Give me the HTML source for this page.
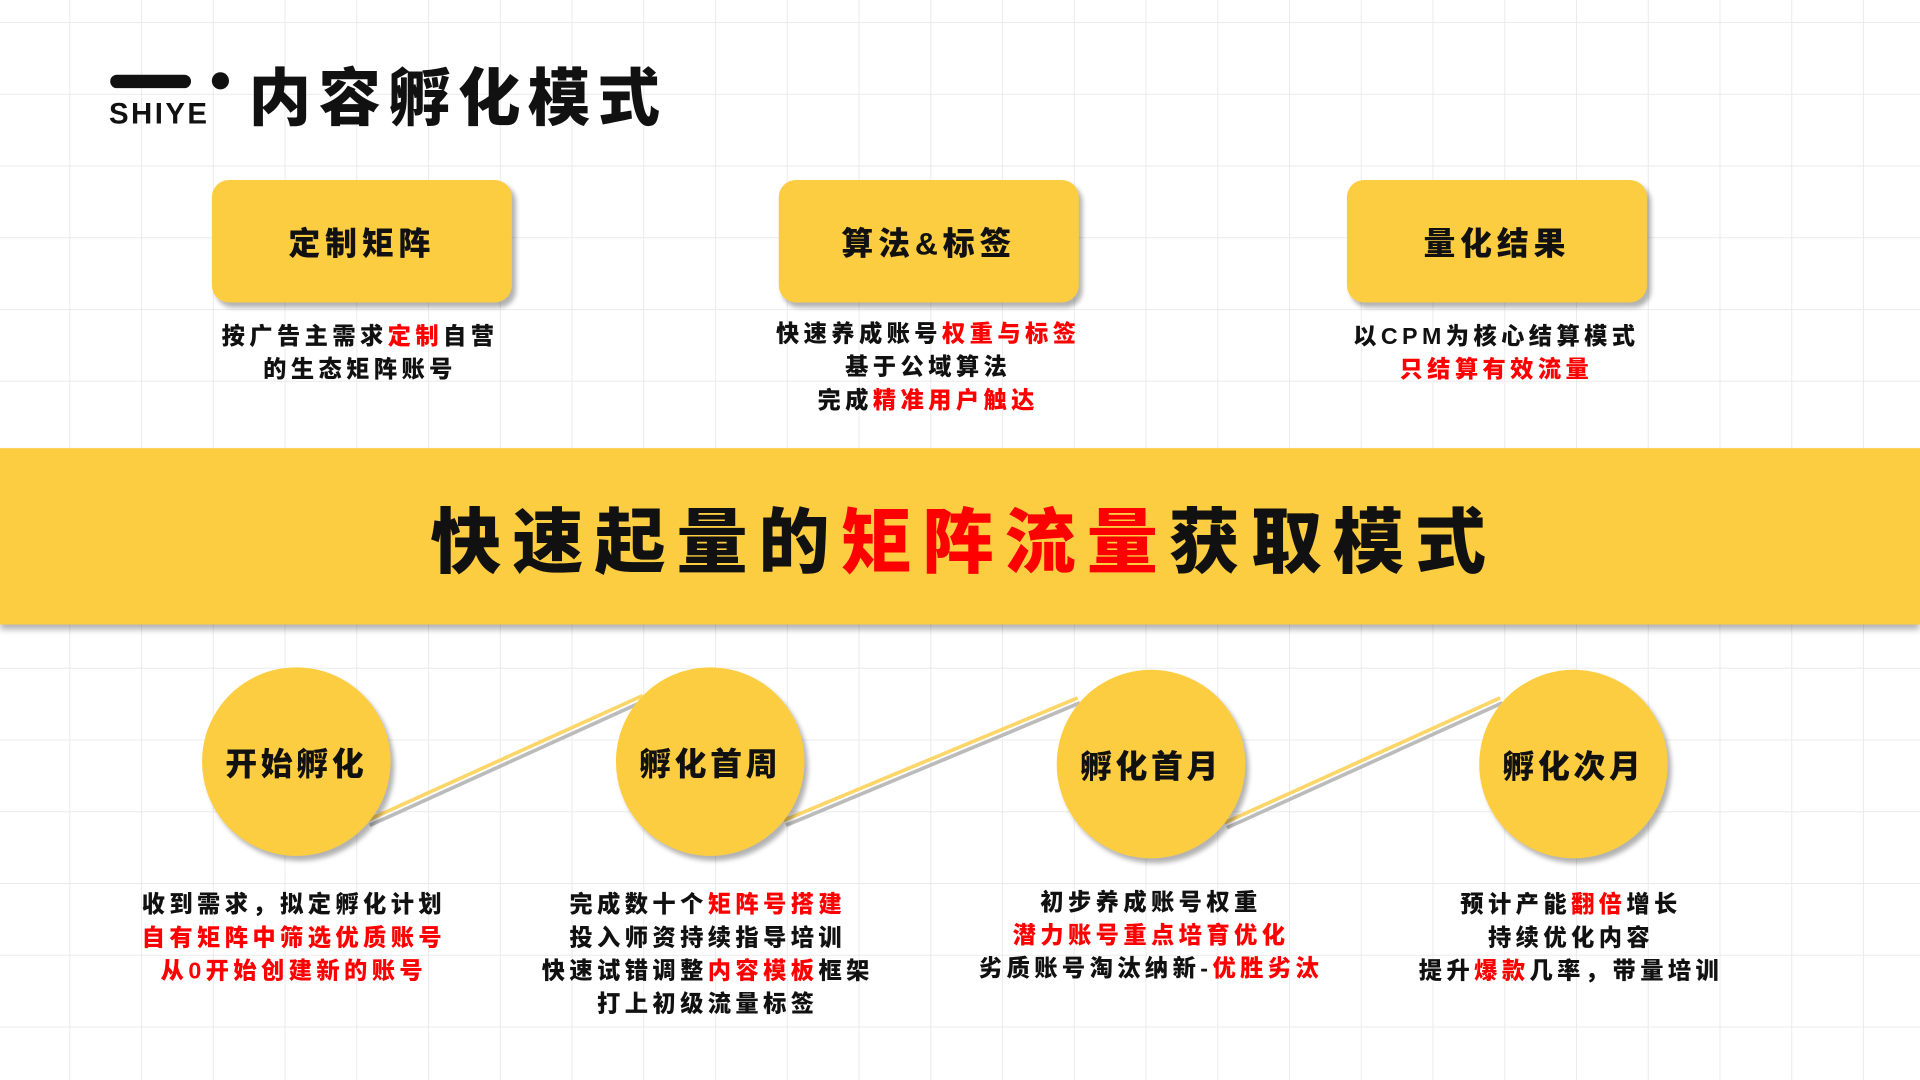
<!DOCTYPE html>
<html><head><meta charset="utf-8"><style>
html,body{margin:0;padding:0;width:1920px;height:1080px;overflow:hidden;background:#fff;}
#w{position:absolute;left:0;top:0;width:1568px;height:882px;transform:scale(1.22449,1.22449);transform-origin:0 0;
background-color:#fff;
background-image:linear-gradient(to right,#ebebeb 1px,transparent 1px),linear-gradient(to bottom,#ebebeb 1px,transparent 1px);
background-size:58.6px 58.6px;background-position:-2px 18px;
font-family:"Liberation Sans","Noto Sans CJK SC",sans-serif;font-weight:900;color:#111;}
.a{position:absolute}
.box{position:absolute;width:245px;height:100px;background:#fdcd41;border-radius:14px;box-shadow:3px 4px 4px rgba(0,0,0,.3);display:flex;align-items:center;justify-content:center;font-size:26px;letter-spacing:4px}
.d{position:absolute;text-align:center;font-size:19px;line-height:27px;letter-spacing:3.6px;white-space:nowrap;transform:translateX(-50%)}
.r{color:#f00}
.c{position:absolute;width:154px;height:154px;border-radius:50%;background:#fdcd41;box-shadow:3px 4px 4px rgba(0,0,0,.3);display:flex;align-items:center;justify-content:center;font-size:26px;letter-spacing:3px}
</style></head><body><div id="w">
<div class="a" style="left:90px;top:61px;width:66px;height:11px;background:#111;border-radius:6px"></div>
<div class="a" style="left:173px;top:59px;width:14px;height:14px;background:#111;border-radius:50%"></div>
<div class="a" style="left:89px;top:80px;font-size:24px;font-family:'Liberation Sans',sans-serif;font-weight:700;letter-spacing:2px">SHIYE</div>
<div class="a" style="left:203px;top:46px;font-size:51px;letter-spacing:6px;line-height:70px">内容孵化模式</div>

<div class="box" style="left:173px;top:147px">定制矩阵</div>
<div class="box" style="left:636px;top:147px">算法&amp;标签</div>
<div class="box" style="left:1100px;top:147px">量化结果</div>

<div class="d" style="left:294px;top:262px">按广告主需求<span class="r">定制</span>自营<br>的生态矩阵账号</div>
<div class="d" style="left:758px;top:260px">快速养成账号<span class="r">权重与标签</span><br>基于公域算法<br>完成<span class="r">精准用户触达</span></div>
<div class="d" style="left:1222px;top:262px">以CPM为核心结算模式<br><span class="r">只结算有效流量</span></div>

<div class="a" style="left:0;top:366px;width:1568px;height:144px;background:#fdcd41;box-shadow:0 4px 5px rgba(0,0,0,.3)"></div>
<div class="a" style="left:0;top:366px;width:1568px;height:144px;display:flex;align-items:center;justify-content:center;font-size:58px;letter-spacing:9px;padding-left:6px;box-sizing:border-box">快速起量的<span class="r">矩阵流量</span>获取模式</div>

<svg class="a" style="left:0;top:0" width="1568" height="882">
<g stroke-width="3" fill="none">
<line x1="302" y1="674" x2="527" y2="572" stroke="#bbb"/>
<line x1="300" y1="670" x2="525" y2="568" stroke="#fdd66a"/>
<line x1="642" y1="674" x2="882" y2="574" stroke="#bbb"/>
<line x1="640" y1="670" x2="880" y2="570" stroke="#fdd66a"/>
<line x1="1002" y1="676" x2="1227" y2="574" stroke="#bbb"/>
<line x1="1000" y1="672" x2="1225" y2="570" stroke="#fdd66a"/>
</g></svg>

<div class="c" style="left:165px;top:545px">开始孵化</div>
<div class="c" style="left:503px;top:545px">孵化首周</div>
<div class="c" style="left:863px;top:547px">孵化首月</div>
<div class="c" style="left:1208px;top:547px">孵化次月</div>

<div class="d" style="left:240px;top:726px">收到需求，拟定孵化计划<br><span class="r">自有矩阵中筛选优质账号</span><br><span class="r">从0开始创建新的账号</span></div>
<div class="d" style="left:578px;top:726px">完成数十个<span class="r">矩阵号搭建</span><br>投入师资持续指导培训<br>快速试错调整<span class="r">内容模板</span>框架<br>打上初级流量标签</div>
<div class="d" style="left:940px;top:724px">初步养成账号权重<br><span class="r">潜力账号重点培育优化</span><br>劣质账号淘汰纳新-<span class="r">优胜劣汰</span></div>
<div class="d" style="left:1283px;top:726px">预计产能<span class="r">翻倍</span>增长<br>持续优化内容<br>提升<span class="r">爆款</span>几率，带量培训</div>
</div></body></html>
